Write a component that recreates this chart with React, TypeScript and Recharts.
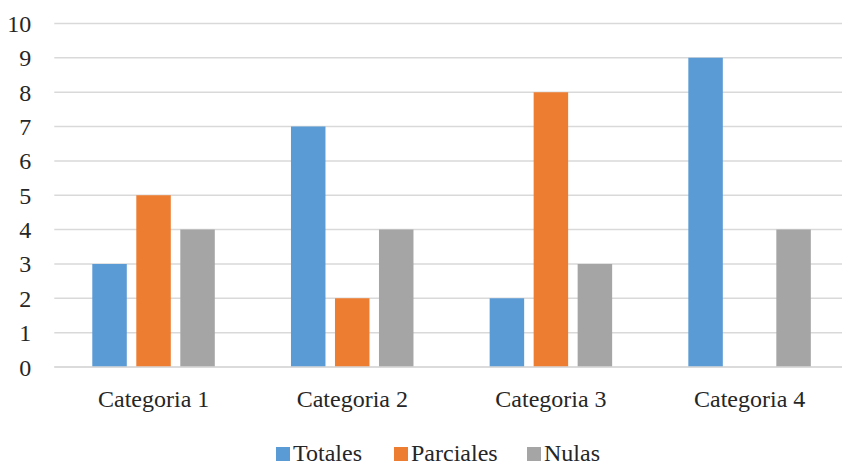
import React from "react";
import { BarChart, Bar, XAxis, YAxis, CartesianGrid, Legend } from "recharts";

const categories = ["Categoria 1", "Categoria 2", "Categoria 3", "Categoria 4"];
const totales = [3, 7, 2, 9];
const parciales = [5, 2, 8, 0];
const nulas = [4, 4, 3, 4];
const yTicks = [0, 1, 2, 3, 4, 5, 6, 7, 8, 9, 10];

const seriesNames = ["Totales", "Parciales", "Nulas"];
const colors = ["#5B9BD5", "#ED7D31", "#A5A5A5"];

const data = categories.map((c, i) => ({
  name: c,
  Totales: totales[i],
  Parciales: parciales[i],
  Nulas: nulas[i],
}));

const FONT = "Liberation Serif, Times New Roman, serif";
const TEXT = "#262626";
const legendItemWidths = [118, 133, 90];

const renderLegend = () => (
  <div
    style={{
      display: "flex",
      justifyContent: "flex-start",
      alignItems: "center",
      fontFamily: FONT,
      fontSize: 24,
      lineHeight: "26px",
      color: TEXT,
      paddingTop: 13,
      paddingLeft: 276,
    }}
  >
    {seriesNames.map((n, i) => (
      <div key={n} style={{ display: "flex", alignItems: "center", width: legendItemWidths[i] }}>
        <span style={{ display: "inline-block", width: 14, height: 14, background: colors[i], marginRight: 3, marginTop: 1 }} />
        <span>{n}</span>
      </div>
    ))}
  </div>
);

export default function App() {
  return (
    <div style={{ position: "absolute", left: 0, top: 0, width: 842, height: 467, overflow: "hidden", background: "#fff", fontFamily: FONT }}>
      <BarChart
        width={849}
        height={467}
        data={data}
        margin={{ top: 23.5, right: 0, bottom: 0, left: 0 }}
        barSize={34.5}
        barGap={9.5}
      >
        <CartesianGrid vertical={false} stroke="#D9D9D9" strokeWidth={1.5} />
        <XAxis
          dataKey="name"
          axisLine={{ stroke: "#D9D9D9", strokeWidth: 1.5 }}
          tickLine={false}
          tickSize={6}
          tickMargin={17}
          height={60}
          tick={{ fontFamily: FONT, fontSize: 24, fill: TEXT }}
        />
        <YAxis
          domain={[0, 10]}
          ticks={yTicks}
          interval={0}
          width={54.3}
          axisLine={false}
          tickLine={false}
          tickSize={6}
          tickMargin={17}
          tick={{ fontFamily: FONT, fontSize: 24, fill: TEXT }}
        />
        <Legend verticalAlign="bottom" height={40} content={renderLegend} />
        {seriesNames.map((n, i) => (
          <Bar key={n} dataKey={n} fill={colors[i]} isAnimationActive={false} />
        ))}
      </BarChart>
    </div>
  );
}
